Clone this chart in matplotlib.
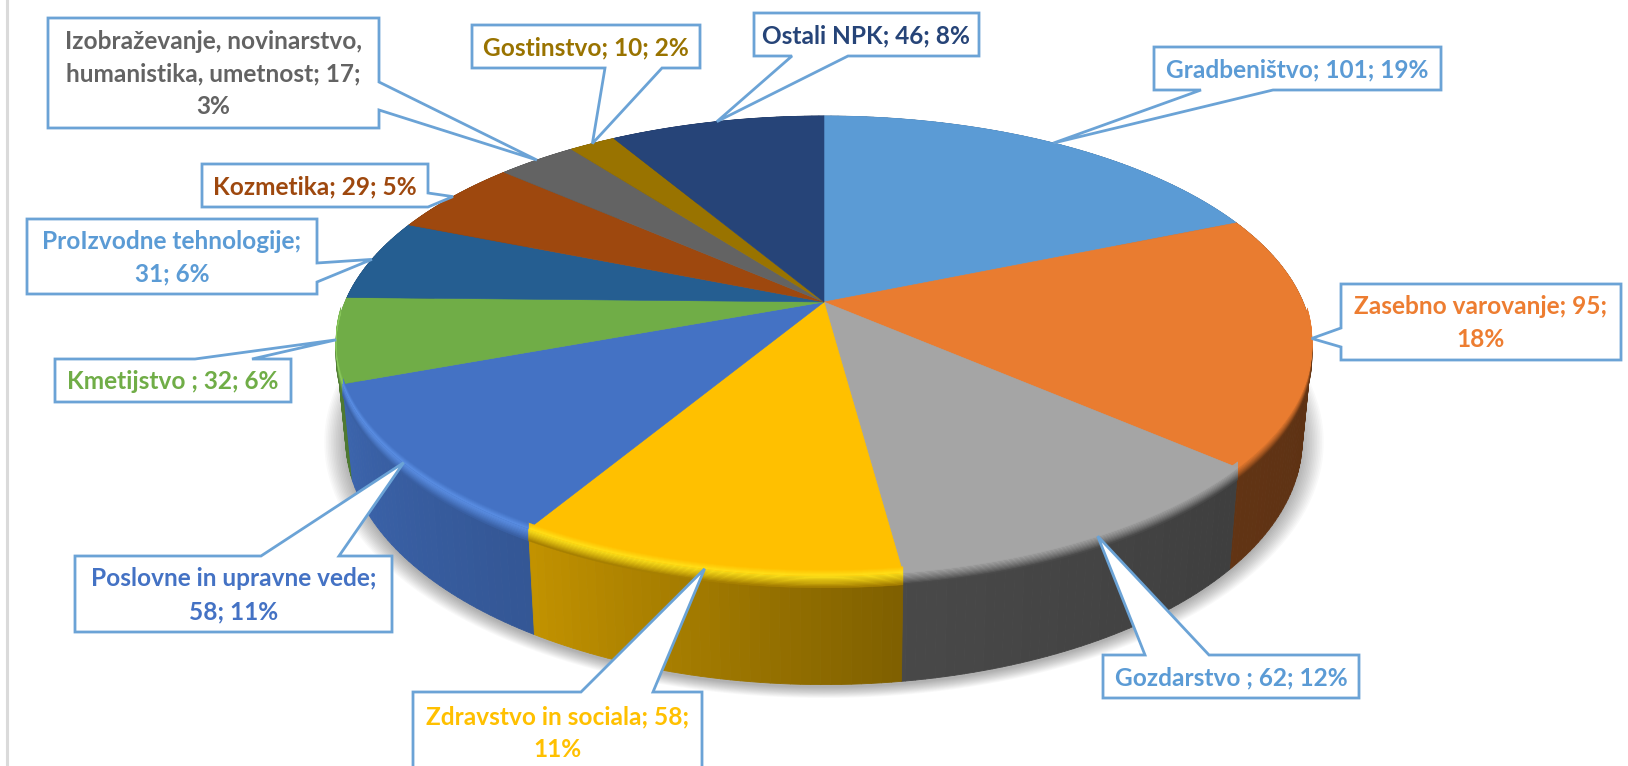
import textwrap
import numpy as np
import matplotlib
matplotlib.use('Agg')
import matplotlib.pyplot as plt
from matplotlib.collections import PolyCollection
from matplotlib.colors import to_rgb
from matplotlib.patches import Polygon

categories = ['Gradbeništvo', 'Zasebno varovanje', 'Gozdarstvo ', 'Zdravstvo in sociala',
              'Poslovne in upravne vede', 'Kmetijstvo ', 'ProIzvodne tehnologije', 'Kozmetika',
              'Izobraževanje, novinarstvo, humanistika, umetnost', 'Gostinstvo', 'Ostali NPK']
values = [101, 95, 62, 58, 58, 32, 31, 29, 17, 10, 46]
shares = [19, 18, 12, 11, 11, 6, 6, 5, 3, 2, 8]

colors = ['#5B9BD5', '#E97C30', '#A5A5A5', '#FFC000', '#4472C4', '#70AD47',
          '#255E91', '#9E480E', '#636363', '#997300', '#264478']
text_colors = ['#5B9BD5', '#ED7D31', '#5B9BD5', '#FFC000', '#4472C4', '#70AD47',
               '#5B9BD5', '#9E480E', '#636363', '#997300', '#264478']
# side shading (left, right), rim highlight
side_dark = [(.6, .6), (.42, .37), (.44, .38), (.76, .5), (.88, .76), (.7, .7),
             (.6, .6), (.6, .6), (.6, .6), (.6, .6), (.6, .6)]
rim_light = ['#5B9BD5', '#E97C30', '#A5A5A5', '#FFE21A', '#5C90E6', '#8CCB5E',
             '#255E91', '#9E480E', '#636363', '#997300', '#264478']

# box: left, right, top, bottom / side the tail leaves from, tail start, tail end / wrap width
boxes = [(1154, 1441, 47, 90, 'bottom', 1201, 1273, 60),
         (1341, 1621, 284, 360, 'left', 328, 347, 22),
         (1103, 1359, 655, 698, 'top', 1145, 1209, 60),
         (413, 702, 692, 772, 'top', 581, 653, 25),
         (75, 392, 556, 632, 'top', 261, 339, 25),
         (55, 291, 359, 402, 'top', 195, 252, 60),
         (27, 317, 219, 294, 'right', 263, 282, 23),
         (202, 428, 164, 207, 'right', 193, 207, 60),
         (48, 379, 18, 128, 'right', 82, 110, 27),
         (472, 700, 25, 68, 'bottom', 605, 662, 60),
         (754, 979, 13, 56, 'bottom', 792, 848, 60)]

W, H = 1628, 766
cx, cy = 824, 302
A, B, k = 479, 221.5, 0.191
line_col = '#6BA3D6'


def top_xy(phi, r=1.0):
    u, v = r * np.sin(phi), r * np.cos(phi)
    d = 1 + k * v
    return cx + A * u / d, cy - B * v / d


def bottom_xy(phi):
    x, y = top_xy(phi)
    return cx + 0.98 * (x - cx), 393 + 1.065 * (y - cy)


def shade(col, f):
    return tuple(c * f for c in to_rgb(col))


def mix(c1, c2, t):
    a, b = np.array(to_rgb(c1)), np.array(to_rgb(c2))
    return tuple(a + (b - a) * t)


fig = plt.figure(figsize=(W / 100, H / 100), dpi=100)
ax = fig.add_axes([0, 0, 1, 1])
ax.set_xlim(0, W)
ax.set_ylim(H, 0)
ax.axis('off')

# frame line on the left
ax.plot([7, 7], [0, H], color='#DADADA', lw=2.2, zorder=1)

edges = np.cumsum([0] + values) / sum(values) * 2 * np.pi
mids = (edges[:-1] + edges[1:]) / 2

# soft shadow under the pie
phi_all = np.linspace(0, 2 * np.pi, 361)
bx, by = bottom_xy(phi_all)
for s in np.linspace(1.0, 1.045, 14):
    sx = cx + s * (bx - cx)
    sy = 452 + s * (by - 452) + 3
    ax.add_patch(Polygon(np.c_[sx, sy], fc='k', ec='none', alpha=0.022, zorder=2))

# sides, back wedges first
order = np.argsort(-np.cos(mids))
for i in order:
    phis = np.arange(edges[i], edges[i + 1] + 0.01, np.radians(1))
    phis = np.append(phis[phis < edges[i + 1]], edges[i + 1])
    tx, ty = top_xy(phis)
    ux, uy = bottom_xy(phis)
    quads, cols = [], []
    for j in range(len(phis) - 1):
        quads.append([(tx[j], ty[j]), (tx[j + 1], ty[j + 1]), (ux[j + 1], uy[j + 1]), (ux[j], uy[j])])
        t = j / max(len(phis) - 2, 1)
        f = side_dark[i][1] + (side_dark[i][0] - side_dark[i][1]) * t
        cols.append(shade(colors[i], f))
    ax.add_collection(PolyCollection(quads, facecolors=cols, edgecolors=cols, linewidths=0.6, zorder=3))

    # bevel along the rim
    n = 10
    side_col = cols[len(cols) // 2]
    for j in range(n):
        d1 = 12 * j / n
        d2 = 12 * (j + 1) / n
        t = (j + 0.5) / n
        c = mix(rim_light[i], side_col, t ** 1.3)
        band = np.r_[np.c_[tx, ty + d1], np.c_[tx, ty + d2][::-1]]
        ax.add_patch(Polygon(band, fc=c, ec=c, lw=0.3, zorder=4))

# top faces
for i in range(len(values)):
    phis = np.linspace(edges[i], edges[i + 1], 120)
    tx, ty = top_xy(phis)
    pts = np.r_[[[cx, cy]], np.c_[tx, ty]]
    ax.add_patch(Polygon(pts, fc=colors[i], ec=colors[i], lw=0.4, zorder=5))

    # highlight fades in just inside the rim on the front half
    front = phis[np.cos(phis) < -0.05]
    if len(front) > 1:
        fx, fy = top_xy(front)
        for j in range(6):
            d1 = 6 - j
            d2 = 5 - j
            c = mix(colors[i], rim_light[i], (j + 0.5) / 6)
            band = np.r_[np.c_[fx, fy - d1], np.c_[fx, fy - d2][::-1]]
            ax.add_patch(Polygon(band, fc=c, ec=c, lw=0.3, zorder=5.5))

# callouts
for i, (l, r, t, b, side, a1, a2, wrap) in enumerate(boxes):
    tip = top_xy(mids[i])
    if side == 'top':
        pts = [(l, t), (a1, t), tip, (a2, t), (r, t), (r, b), (l, b)]
    elif side == 'bottom':
        pts = [(l, t), (r, t), (r, b), (a2, b), tip, (a1, b), (l, b)]
    elif side == 'left':
        pts = [(l, t), (r, t), (r, b), (l, b), (l, a2), tip, (l, a1)]
    else:
        pts = [(l, t), (r, t), (r, a1), tip, (r, a2), (r, b), (l, b)]
    ax.add_patch(Polygon(pts, closed=True, fc='white', ec=line_col, lw=2.0, joinstyle='miter', zorder=6))
    label = f'{categories[i]}; {values[i]}; {shares[i]}%'
    ax.text((l + r) / 2, (t + min(b, 766 + 6)) / 2 + 1, '\n'.join(textwrap.wrap(label, wrap)),
            ha='center', va='center', color=text_colors[i], fontsize=17.6,
            fontfamily='Lato', fontweight='bold', linespacing=1.52, zorder=7)

fig.savefig('out.png', dpi=100)
